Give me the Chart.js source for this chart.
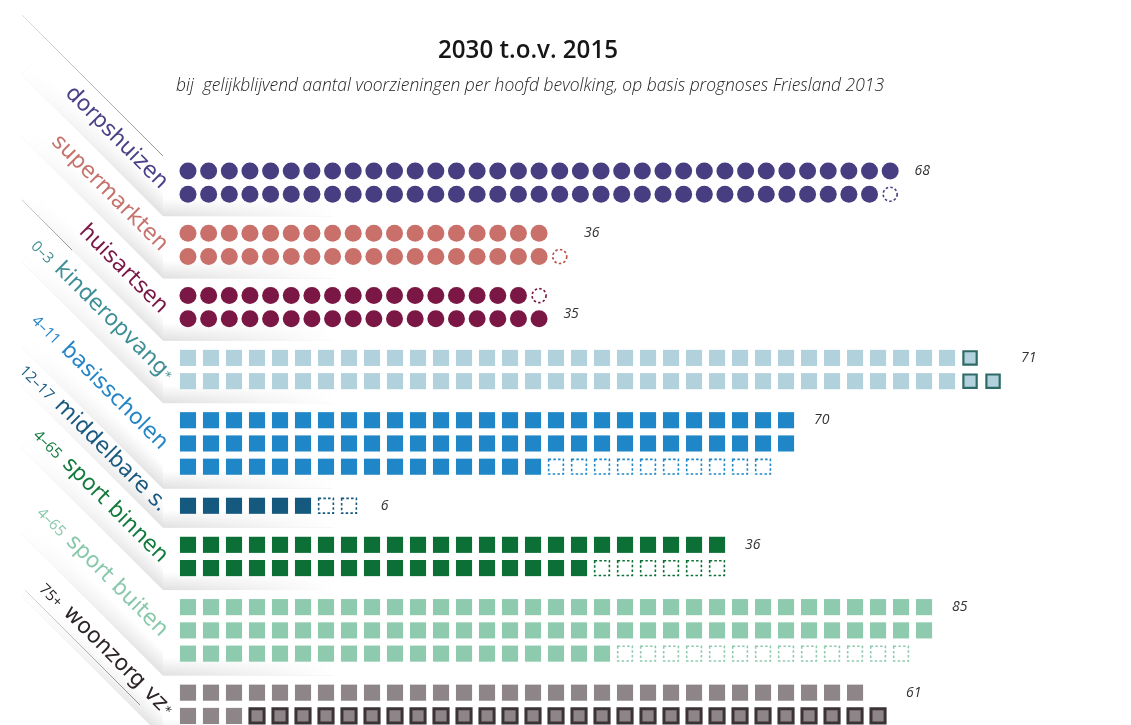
<!DOCTYPE html>
<html>
<head>
<meta charset="utf-8">
<script src="https://cdn.jsdelivr.net/npm/chart.js@4.4.1/dist/chart.umd.min.js"></script>
<style>
  body { margin: 0; background: #fff; }
  #wrap { position: relative; width: 1131px; height: 725px; overflow: hidden; }
  #mycanvas { position: absolute; left: 0; top: 0; }
  #title { position: absolute; left: 0; top: 33px; font: 600 25px "Open Sans"; color: #161616; white-space: nowrap; transform-origin: 0 0; line-height: 1.2; }
  #sub { position: absolute; left: 0; top: 74px; font: italic 300 18px "Open Sans"; color: #222; white-space: nowrap; transform-origin: 0 0; line-height: 1.2; }
</style>
</head>
<body>
<div id="wrap">
  <canvas id="mycanvas" width="1131" height="725"></canvas>
  <div id="title">2030 t.o.v. 2015</div>
  <div id="sub">bij&nbsp; gelijkblijvend aantal voorzieningen per hoofd bevolking, op basis prognoses Friesland 2013</div>
</div>
<script>
// data
var categories = ['dorpshuizen', 'supermarkten', 'huisartsen', 'kinderopvang', 'basisscholen', 'middelbare s.', 'sport binnen', 'sport buiten', 'woonzorg vz'];
var agePrefix = ['', '', '', '0–3', '4–11', '12–17', '4–65', '4–65', '75+'];
var starred = [false, false, false, true, false, false, false, false, true];
var values2030 = [68, 36, 35, 71, 70, 6, 36, 85, 61];
// per row: icons kept, icons lost (dashed), icons gained (outlined)
var keptPerRow = [[35, 34], [18, 18], [17, 18], [34, 34], [27, 27, 16], [6], [24, 18], [33, 33, 19], [30, 3]];
var lostPerRow = [[0, 1], [0, 1], [1, 0], [0, 0], [0, 0, 10], [2], [0, 6], [0, 0, 13], [0, 0]];
var gainedPerRow = [[0, 0], [0, 0], [0, 0], [1, 2], [0, 0, 0], [0], [0, 0], [0, 0, 0], [0, 28]];
var valueRow = [0, 0, 1, 0, 0, 0, 0, 0, 0];
var roundIcons = 3; // first three use dots, rest squares

// styles
var markColor = ['#463e80', '#c9706a', '#7a1745', '#b1d2dc', '#1f86c7', '#16597f', '#0c6f35', '#8ecbae', '#8d8587'];
var labelColor = ['#4a4287', '#c7716c', '#7a1747', '#3f8f96', '#2384c6', '#1b5a80', '#127a3d', '#88c8ab', '#2c2428'];
var lostColor = ['#463e80', '#b94c43', '#7a1745', '', '#1f86c7', '#16597f', '#0c6f35', '#8ecbae', ''];
var gainedBorder = ['', '', '', '#2e6a66', '', '', '', '', '#3b3335'];
var GAP = 1.68;

var rowStart = [];
var pos = 0;
for (var g = 0; g < categories.length; g++) {
  rowStart.push(pos);
  pos += keptPerRow[g].length - 1 + GAP;
}

var datasets = [];
var maxCols = [];
for (var g = 0; g < categories.length; g++) {
  var round = g < roundIcons;
  var axis = round ? 'xc' : 'xs';
  var kept = [], lost = [], gained = [];
  var widest = 0;
  for (var r = 0; r < keptPerRow[g].length; r++) {
    var yv = rowStart[g] + r;
    var c = 0;
    for (var k = 0; k < keptPerRow[g][r]; k++) kept.push({x: c++, y: yv});
    for (var k = 0; k < lostPerRow[g][r]; k++) lost.push({x: c++, y: yv});
    for (var k = 0; k < gainedPerRow[g][r]; k++) gained.push({x: c++, y: yv});
    widest = Math.max(widest, c);
  }
  maxCols.push(widest);
  datasets.push({
    label: categories[g], data: kept, xAxisID: axis, clip: false,
    pointStyle: round ? 'circle' : 'rect', pointRadius: round ? 8.5 : 11.4,
    pointBackgroundColor: markColor[g], pointBorderWidth: 0
  });
  if (lost.length) {
    datasets.push({
      label: categories[g] + ' minder', data: lost, xAxisID: axis, clip: false, dash: [2.5, 2.2],
      pointStyle: round ? 'circle' : 'rect', pointRadius: round ? 7 : 10.4,
      pointBackgroundColor: 'rgba(0,0,0,0)', pointBorderColor: lostColor[g], pointBorderWidth: 1.6
    });
  }
  if (gained.length) {
    datasets.push({
      label: categories[g] + ' meer', data: gained, xAxisID: axis, clip: false,
      pointStyle: 'rect', pointRadius: g === 8 ? 10 : 9.4,
      pointBackgroundColor: markColor[g], pointBorderColor: gainedBorder[g], pointBorderWidth: g === 8 ? 3 : 2.2
    });
  }
}

function fade(ctx, x0, y0, x1, y1, c0, c1) {
  var gr = ctx.createLinearGradient(x0, y0, x1, y1);
  gr.addColorStop(0, c0);
  gr.addColorStop(1, c1);
  return gr;
}

var decor = {
  id: 'decor',
  beforeDatasetsDraw: function(chart) {
    var ctx = chart.ctx;
    var ys = chart.scales.y;
    ctx.save();
    // folded shadows under every group
    for (var g = 0; g < categories.length; g++) {
      var lastY = ys.getPixelForValue(rowStart[g] + keptPerRow[g].length - 1);
      var cx = 163, cy = lastY + 22, t = 18;
      ctx.fillStyle = fade(ctx, 0, cy - t, 0, cy, 'rgba(0,0,0,0)', 'rgba(0,0,0,0.12)');
      ctx.fillRect(cx, cy - t, 170, t);
      ctx.fillStyle = fade(ctx, cx, 0, cx + 170, 0, 'rgba(255,255,255,0)', 'rgba(255,255,255,1)');
      ctx.fillRect(cx, cy - t, 170, t);
      ctx.save();
      ctx.beginPath();
      ctx.rect(0, 0, cx, chart.height);
      ctx.clip();
      ctx.translate(cx, cy);
      ctx.rotate(Math.PI / 4);
      ctx.fillStyle = fade(ctx, 0, -t, 0, 0, 'rgba(0,0,0,0)', 'rgba(0,0,0,0.12)');
      ctx.fillRect(-200, -t, 200, t);
      ctx.fillStyle = fade(ctx, 0, 0, -200, 0, 'rgba(255,255,255,0)', 'rgba(255,255,255,1)');
      ctx.fillRect(-200, -t, 200, t);
      ctx.restore();
    }
    // thin fold lines
    ctx.lineWidth = 1;
    var lines = [[22, 15, 163, 156], [22, 200, 72, 250], [25, 590, 140, 705]];
    lines.forEach(function(l) {
      ctx.strokeStyle = fade(ctx, l[0], l[1], l[2], l[3], 'rgba(110,110,110,0.25)', 'rgba(110,110,110,0.75)');
      ctx.beginPath();
      ctx.moveTo(l[0], l[1]);
      ctx.lineTo(l[2], l[3]);
      ctx.stroke();
    });
    // slanted category labels
    for (var g = 0; g < categories.length; g++) {
      var top = ys.getPixelForValue(rowStart[g]);
      var bot = ys.getPixelForValue(rowStart[g] + keptPerRow[g].length - 1);
      ctx.save();
      ctx.translate(160, (top + bot) / 2 + 7);
      ctx.rotate(Math.PI / 4);
      ctx.fillStyle = labelColor[g];
      ctx.textBaseline = 'alphabetic';
      ctx.textAlign = 'right';
      ctx.font = '22px "DejaVu Sans"';
      ctx.fillText(categories[g], 0, 0);
      var w = ctx.measureText(categories[g]).width;
      if (starred[g]) {
        ctx.font = '13px "DejaVu Sans"';
        ctx.textAlign = 'left';
        ctx.fillText('*', 1, -1);
      }
      if (agePrefix[g]) {
        ctx.font = '15px "Open Sans"';
        ctx.textAlign = 'right';
        ctx.fillText(agePrefix[g], -w - 8, 0);
      }
      ctx.restore();
    }
    ctx.restore();
  },
  beforeDatasetDraw: function(chart, args) {
    var ds = chart.data.datasets[args.index];
    if (ds.dash) chart.ctx.setLineDash(ds.dash);
  },
  afterDatasetDraw: function(chart) {
    chart.ctx.setLineDash([]);
  },
  afterDatasetsDraw: function(chart) {
    var ctx = chart.ctx;
    var ys = chart.scales.y;
    ctx.save();
    ctx.font = 'italic 14px "Open Sans"';
    ctx.fillStyle = '#333';
    ctx.textAlign = 'center';
    ctx.textBaseline = 'middle';
    for (var g = 0; g < categories.length; g++) {
      var xsc = g < roundIcons ? chart.scales.xc : chart.scales.xs;
      var px = xsc.getPixelForValue(maxCols[g] - 1 + 1.55);
      var py = ys.getPixelForValue(rowStart[g] + valueRow[g]) - (valueRow[g] ? 5 : 0);
      ctx.fillText(String(values2030[g]), px, py);
    }
    ctx.restore();
  }
};

var ctx = document.getElementById('mycanvas');
var chart = new Chart(ctx, {
  type: 'scatter',
  data: { datasets: datasets },
  options: {
    responsive: false,
    animation: false,
    events: [],
    layout: { autoPadding: false, padding: { left: 180, right: 31, top: 150, bottom: 0 } },
    plugins: { legend: { display: false }, tooltip: { enabled: false } },
    scales: {
      x: { display: false },
      xc: { type: 'linear', axis: 'x', display: false, min: -0.387, max: 44.16 },
      xs: { type: 'linear', axis: 'x', display: false, min: -0.348, max: 39.65 },
      y: { type: 'linear', display: false, reverse: true, min: -0.903, max: 23.83 }
    }
  },
  plugins: [decor]
});

// squeeze the heading lines to the reference widths
function fit(id, left, width) {
  var el = document.getElementById(id);
  var w = el.getBoundingClientRect().width;
  el.style.left = left + 'px';
  el.style.transform = 'scaleX(' + (width / w) + ')';
}
fit('title', 438, 180);
fit('sub', 176, 708);
</script>
</body>
</html>
